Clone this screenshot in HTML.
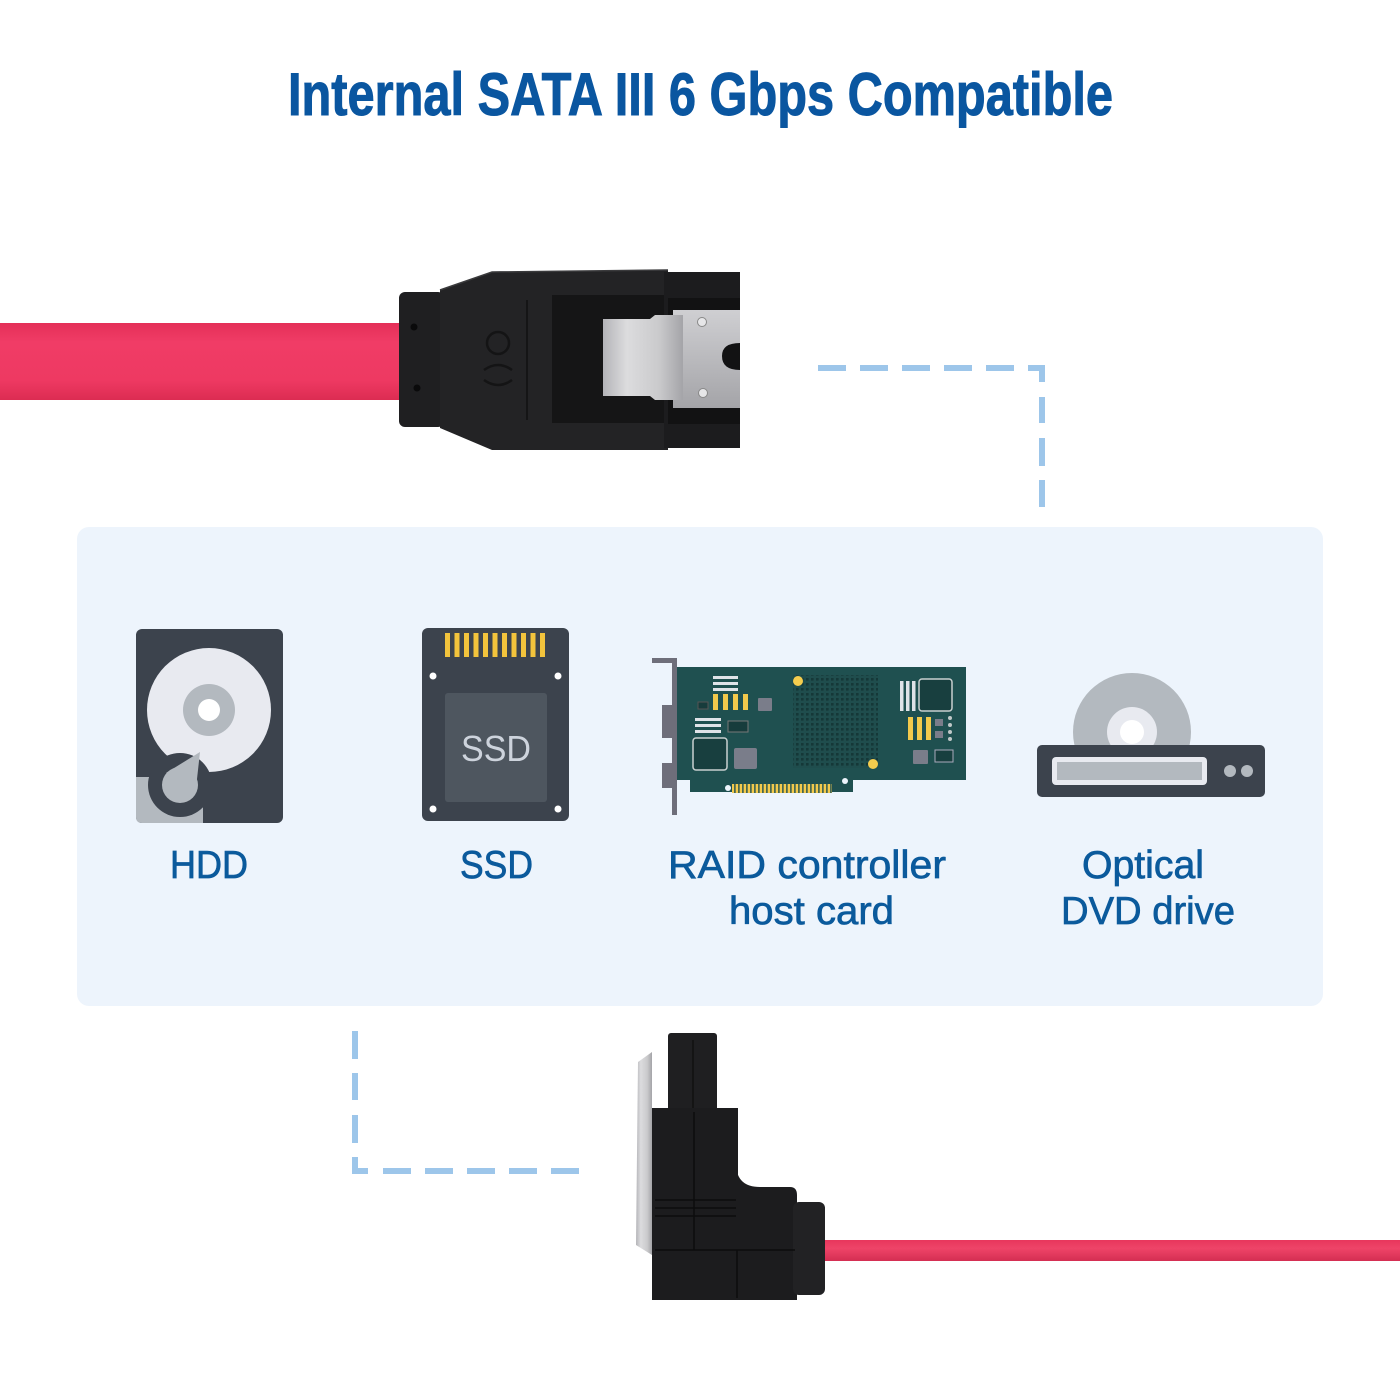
<!DOCTYPE html>
<html><head><meta charset="utf-8"><style>
html,body{margin:0;padding:0;background:#fff;}
svg{display:block;}
text{font-family:"Liberation Sans",sans-serif;}
</style></head><body>
<svg width="1400" height="1400" viewBox="0 0 1400 1400" xmlns="http://www.w3.org/2000/svg">
<defs>
<linearGradient id="cab" x1="0" y1="0" x2="0" y2="1">
<stop offset="0" stop-color="#e42f58"/><stop offset="0.25" stop-color="#f03c66"/><stop offset="0.75" stop-color="#ee3962"/><stop offset="1" stop-color="#dc2c52"/></linearGradient>
<linearGradient id="cab2" x1="0" y1="0" x2="0" y2="1">
<stop offset="0" stop-color="#e8365c"/><stop offset="0.4" stop-color="#ee4468"/><stop offset="1" stop-color="#d42e52"/></linearGradient>
<linearGradient id="met" x1="0" y1="0" x2="1" y2="0">
<stop offset="0" stop-color="#b4b4b8"/><stop offset="0.3" stop-color="#dcdcde"/><stop offset="0.7" stop-color="#cacacc"/><stop offset="1" stop-color="#a4a4a8"/></linearGradient>
<linearGradient id="met2" x1="0" y1="0" x2="0" y2="1">
<stop offset="0" stop-color="#cfcfd2"/><stop offset="1" stop-color="#a4a4a8"/></linearGradient>
<pattern id="bga" x="795" y="677" width="5" height="5" patternUnits="userSpaceOnUse">
<rect width="5" height="5" fill="#1f4d4d"/><rect x="1" y="1" width="2.6" height="2.6" fill="#153838"/></pattern>
<pattern id="fing" x="731" y="784" width="4" height="10" patternUnits="userSpaceOnUse">
<rect width="4" height="10" fill="#1f5050"/><rect x="0.6" width="2.6" height="10" fill="#f2c94c"/></pattern>
</defs>

<!-- Title -->
<text x="288" y="115" font-size="60" font-weight="bold" fill="#0a56a0" stroke="#0a56a0" stroke-width="1" textLength="825" lengthAdjust="spacingAndGlyphs">Internal SATA III 6 Gbps Compatible</text>

<!-- Top cable -->
<rect x="0" y="323" width="404" height="77" fill="url(#cab)"/>

<!-- Top connector -->
<rect x="399" y="292" width="45" height="135" rx="6" fill="#1f1f21"/>
<circle cx="414" cy="327" r="3.5" fill="#0a0a0b"/>
<circle cx="417" cy="388" r="3.5" fill="#0a0a0b"/>
<path d="M440,290 L492,272 L668,270 L668,450 L492,450 L440,428 Z" fill="#232325"/>
<path d="M440,290 L492,272 L668,270" fill="none" stroke="#3a3a3c" stroke-width="1.5"/>
<line x1="527" y1="300" x2="527" y2="420" stroke="#151516" stroke-width="2"/>
<rect x="552" y="295" width="116" height="128" fill="#151516"/>
<circle cx="498" cy="343" r="11" fill="none" stroke="#141415" stroke-width="2.5"/>
<path d="M484,370 q14,-10 28,0 M484,380 q14,10 28,0" fill="none" stroke="#141415" stroke-width="2.5"/>
<rect x="664" y="272" width="76" height="176" fill="#1c1c1e"/>
<rect x="668" y="298" width="72" height="126" fill="#121213"/>
<path d="M673,310 L740,310 L740,343 Q722,343 722,356 Q722,370 740,370 L740,408 L673,408 Z" fill="url(#met2)"/>
<circle cx="702" cy="322" r="4.5" fill="#e6e6e8" stroke="#888" stroke-width="1"/>
<circle cx="703" cy="393" r="4.5" fill="#e6e6e8" stroke="#888" stroke-width="1"/>
<path d="M603,319 L650,319 L655,315 L683,315 L683,400 L655,400 L650,396 L603,396 Z" fill="url(#met)"/>

<!-- Dashed connectors -->
<g fill="#9dc6ea">
<rect x="818" y="365" width="28" height="6"/><rect x="860" y="365" width="28" height="6"/>
<rect x="902" y="365" width="28" height="6"/><rect x="944" y="365" width="28" height="6"/>
<rect x="986" y="365" width="28" height="6"/><rect x="1028" y="365" width="17" height="6"/>
<rect x="1039" y="365" width="6" height="17"/>
<rect x="1039" y="397" width="6" height="26"/><rect x="1039" y="438" width="6" height="28"/>
<rect x="1039" y="480" width="6" height="27"/>
<rect x="352" y="1031" width="6" height="28"/><rect x="352" y="1073" width="6" height="27"/>
<rect x="352" y="1115" width="6" height="28"/><rect x="352" y="1157" width="6" height="17"/>
<rect x="352" y="1168" width="16" height="6"/>
<rect x="383" y="1168" width="28" height="6"/><rect x="425" y="1168" width="28" height="6"/>
<rect x="467" y="1168" width="28" height="6"/><rect x="509" y="1168" width="28" height="6"/>
<rect x="551" y="1168" width="28" height="6"/>
</g>

<!-- Panel -->
<rect x="77" y="527" width="1246" height="479" rx="12" fill="#edf4fc"/>

<!-- HDD -->
<rect x="136" y="629" width="147" height="194" rx="6" fill="#3c434d"/>
<circle cx="209" cy="710" r="62" fill="#e8eaf0"/>
<circle cx="209" cy="710" r="26" fill="#b3b9bf"/>
<circle cx="209" cy="710" r="11" fill="#ffffff"/>
<path d="M136,777 H203 V823 H142 Q136,823 136,817 Z" fill="#b3b9bf"/>
<circle cx="180" cy="785" r="32" fill="#3c434d"/>
<rect x="203" y="777" width="10" height="46" fill="#3c434d"/>
<circle cx="180" cy="785" r="18" fill="#b3b9bf"/>
<path d="M166,773 L200,752 L196,788 Z" fill="#b3b9bf"/>

<!-- SSD -->
<rect x="422" y="628" width="147" height="193" rx="6" fill="#3c434d"/>
<g fill="#f2c33c">
<rect x="445" y="633" width="5" height="24"/><rect x="454.5" y="633" width="5" height="24"/>
<rect x="464" y="633" width="5" height="24"/><rect x="473.5" y="633" width="5" height="24"/>
<rect x="483" y="633" width="5" height="24"/><rect x="492.5" y="633" width="5" height="24"/>
<rect x="502" y="633" width="5" height="24"/><rect x="511.5" y="633" width="5" height="24"/>
<rect x="521" y="633" width="5" height="24"/><rect x="530.5" y="633" width="5" height="24"/>
<rect x="540" y="633" width="5" height="24"/>
</g>
<g fill="#ffffff">
<circle cx="433" cy="676" r="3.5"/><circle cx="558" cy="676" r="3.5"/>
<circle cx="433" cy="809" r="3.5"/><circle cx="558" cy="809" r="3.5"/>
</g>
<rect x="445" y="693" width="102" height="109" rx="3" fill="#4e565f"/>
<text x="461" y="761" font-size="36" fill="#cdd3dc" textLength="70" lengthAdjust="spacingAndGlyphs">SSD</text>

<!-- RAID card -->
<g>
<rect x="652" y="658" width="25" height="5" fill="#6e6e7a"/>
<rect x="672" y="658" width="5" height="157" fill="#6e6e7a"/>
<rect x="662" y="705" width="10" height="33" fill="#6e6e7a"/>
<rect x="662" y="763" width="10" height="25" fill="#6e6e7a"/>
<rect x="677" y="667" width="289" height="113" fill="#1f5050"/>
<rect x="690" y="779" width="163" height="13" fill="#1f5050"/>
<circle cx="845" cy="781" r="3" fill="#edf4fc"/>
<circle cx="728" cy="788" r="3" fill="#edf4fc"/>
<rect x="732" y="784" width="100" height="9" fill="url(#fing)"/>
<rect x="793" y="675" width="85" height="93" fill="url(#bga)"/>
<circle cx="798" cy="681" r="5" fill="#f5cd4e"/>
<circle cx="873" cy="764" r="5" fill="#f5cd4e"/>
<g fill="#dfe3e8">
<rect x="713" y="676" width="25" height="3"/><rect x="713" y="682" width="25" height="3"/><rect x="713" y="688" width="25" height="3"/>
<rect x="695" y="718" width="26" height="3"/><rect x="695" y="724" width="26" height="3"/><rect x="695" y="730" width="26" height="3"/>
<rect x="900" y="681" width="3.5" height="30"/><rect x="906" y="681" width="3.5" height="30"/><rect x="912" y="681" width="3.5" height="30"/>
</g>
<g fill="#f2c94c">
<rect x="713" y="694" width="5" height="16"/><rect x="723" y="694" width="5" height="16"/>
<rect x="733" y="694" width="5" height="16"/><rect x="743" y="694" width="5" height="16"/>
<rect x="908" y="717" width="5" height="23"/><rect x="917" y="717" width="5" height="23"/><rect x="926" y="717" width="5" height="23"/>
</g>
<rect x="698" y="702" width="10" height="7" fill="#173c3c" stroke="#555" stroke-width="1"/>
<rect x="728" y="721" width="20" height="11" fill="#173c3c" stroke="#777" stroke-width="1"/>
<rect x="693" y="738" width="34" height="32" rx="3" fill="#183f3f" stroke="#c9d0d0" stroke-width="1.5"/>
<rect x="734" y="748" width="23" height="21" rx="2" fill="#7a7d8a"/>
<rect x="758" y="698" width="14" height="13" rx="1" fill="#7a7d8a"/>
<rect x="919" y="679" width="33" height="32" rx="3" fill="#183f3f" stroke="#c9d0d0" stroke-width="1.5"/>
<rect x="935" y="719" width="8" height="7" fill="#7a7d8a"/><rect x="935" y="731" width="8" height="7" fill="#7a7d8a"/>
<g fill="#c0c8c8"><circle cx="950" cy="718" r="2"/><circle cx="950" cy="725" r="2"/><circle cx="950" cy="732" r="2"/><circle cx="950" cy="739" r="2"/></g>
<rect x="913" y="750" width="15" height="14" rx="1" fill="#7a7d8a"/>
<rect x="935" y="750" width="18" height="12" fill="#183f3f" stroke="#aab" stroke-width="1"/>
</g>

<!-- Optical drive -->
<circle cx="1132" cy="732" r="59" fill="#b3b9bf"/>
<circle cx="1132" cy="732" r="25" fill="#e8eaf0"/>
<circle cx="1132" cy="732" r="12" fill="#ffffff"/>
<rect x="1037" y="745" width="228" height="52" rx="5" fill="#3c434d"/>
<rect x="1052" y="757" width="155" height="28" rx="4" fill="#e8eaf0"/>
<rect x="1057" y="762" width="145" height="18" fill="#b3b9bf"/>
<circle cx="1230" cy="771" r="6" fill="#b3b9bf"/>
<circle cx="1247" cy="771" r="6" fill="#b3b9bf"/>

<!-- Labels -->
<g fill="#0b5a9c" stroke="#0b5a9c" stroke-width="0.7" font-size="39">
<text x="170" y="878" textLength="78" lengthAdjust="spacingAndGlyphs">HDD</text>
<text x="460" y="878" textLength="73" lengthAdjust="spacingAndGlyphs">SSD</text>
<text x="668" y="878" textLength="278" lengthAdjust="spacingAndGlyphs">RAID controller</text>
<text x="729" y="924" textLength="165" lengthAdjust="spacingAndGlyphs">host card</text>
<text x="1082" y="878" textLength="122" lengthAdjust="spacingAndGlyphs">Optical</text>
<text x="1061" y="924" textLength="174" lengthAdjust="spacingAndGlyphs">DVD drive</text>
</g>

<!-- Bottom cable -->
<rect x="815" y="1240" width="585" height="21" fill="url(#cab2)"/>

<!-- Bottom connector -->
<path d="M638,1062 L652,1052 L652,1255 L636,1245 Z" fill="url(#met)"/>
<rect x="668" y="1033" width="49" height="80" rx="3" fill="#1f1f21"/>
<line x1="693" y1="1040" x2="693" y2="1108" stroke="#111" stroke-width="1.5"/>
<rect x="652" y="1108" width="86" height="192" fill="#1c1c1e"/>
<path d="M736,1165 Q737,1187 760,1187 L790,1187 Q797,1187 797,1195 L797,1300 L736,1300 Z" fill="#1c1c1e"/>
<rect x="793" y="1202" width="32" height="93" rx="6" fill="#222224"/>
<g stroke="#0c0c0d" stroke-width="1.5">
<line x1="694" y1="1112" x2="694" y2="1250"/>
<line x1="655" y1="1200" x2="736" y2="1200"/>
<line x1="655" y1="1208" x2="736" y2="1208"/>
<line x1="655" y1="1216" x2="736" y2="1216"/>
<line x1="655" y1="1250" x2="795" y2="1250"/>
<line x1="737" y1="1250" x2="737" y2="1298"/>
</g>
</svg>
</body></html>
